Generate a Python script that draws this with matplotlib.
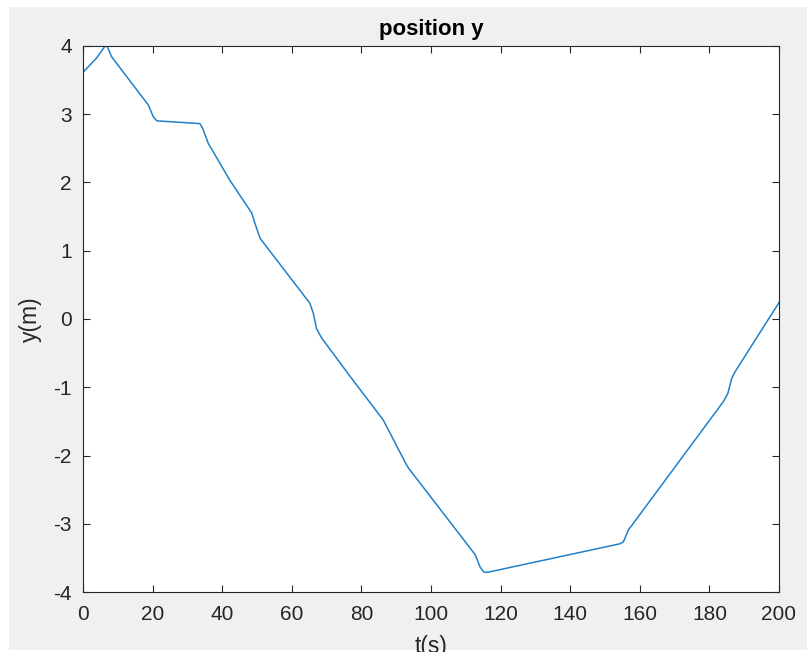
import matplotlib.pyplot as plt
from matplotlib.patches import Rectangle

# Curve (t in seconds, y in metres)
t = [0, 3.9, 4.9, 6.7, 8.2, 18.8, 20.2, 21.2, 33.6, 34.4, 36.0, 42.2,
     48.5, 49.4, 50.9, 65.2, 66.2, 67.1, 68.6, 77.2, 86.3, 92.5, 93.5,
     112.7, 114.1, 115.1, 116.0, 154.3, 155.3, 156.7, 184.0, 185.3,
     186.4, 187.4, 200]
y = [3.61, 3.82, 3.89, 4.02, 3.84, 3.13, 2.96, 2.90, 2.86, 2.79, 2.57, 2.03,
     1.55, 1.40, 1.18, 0.23, 0.08, -0.14, -0.28, -0.87, -1.48, -2.09, -2.18,
     -3.45, -3.63, -3.70, -3.71, -3.29, -3.26, -3.09, -1.21, -1.09,
     -0.87, -0.77, 0.24]

xticks = list(range(0, 201, 20))
yticks = list(range(-4, 5))

W, H = 807, 652
plt.rcParams['font.family'] = ['Liberation Sans', 'DejaVu Sans']
plt.rcParams['axes.unicode_minus'] = False

fig = plt.figure(figsize=(W / 100, H / 100), dpi=100, facecolor='white')
# grey MATLAB figure window background
fig.add_artist(Rectangle((9 / W, 2 / H), 1 - 9 / W, 1 - 9 / H,
                         transform=fig.transFigure, facecolor='#f0f0f0',
                         edgecolor='none', zorder=-10))

ax = fig.add_axes([83 / W, 1 - 592.3 / H, 696 / W, 546.6 / H])
ax.plot(t, y, color='#2080c8', lw=1.1)

ax.set_xlim(0, 200)
ax.set_ylim(-4, 4)
ax.set_xticks(xticks)
ax.set_yticks(yticks)
ax.tick_params(direction='in', length=5, width=0.8, top=True, right=True,
               labelsize=15, colors='#262626')
ax.tick_params(axis='x', pad=9)
ax.tick_params(axis='y', pad=8)
for s in ax.spines.values():
    s.set_color('#262626')
    s.set_linewidth(0.8)

ax.set_title('position y', fontsize=16, fontweight='bold', color='black', pad=8)
ax.set_xlabel('t(s)', fontsize=16.5, color='#262626', labelpad=8)
ax.set_ylabel('y(m)', fontsize=16.5, color='#262626', labelpad=8)

fig.savefig('out.png', dpi=100)
